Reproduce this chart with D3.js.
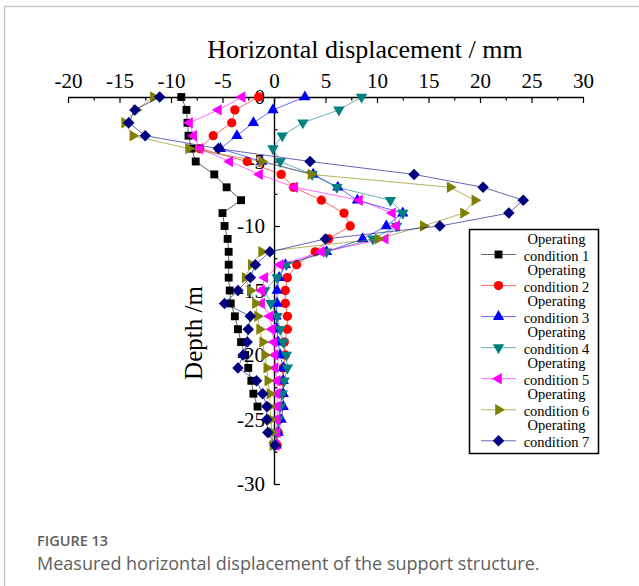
<!DOCTYPE html>
<html>
<head>
<meta charset="utf-8">
<script src="https://cdn.jsdelivr.net/npm/d3@7"></script>
<style>
  html, body { margin: 0; padding: 0; background: #fff; }
  svg { display: block; }
</style>
</head>
<body>
<svg id="chart" width="639" height="586"></svg>
<script>
// Measurement depths (m), shared by all operating conditions
const depths = [0, -1, -2, -3, -4, -5, -6, -7, -8, -9, -10, -11, -12, -13,
                -14, -15, -16, -17, -18, -19, -20, -21, -22, -23, -24, -25, -26, -27];

// Horizontal displacement (mm) at each depth, one array per operating condition
const condition1 = [-9.0, -8.5, -8.4, -8.3, -8.0, -7.6, -5.8, -4.6, -3.2, -5.0, -4.8, -4.5, -4.4, -4.4,
                    -4.4, -4.3, -4.2, -3.8, -3.5, -3.2, -2.8, -2.5, -2.2, -2.0, -1.6];
const condition2 = [-1.5, -3.8, -4.1, -5.9, -7.2, -2.6, 0.7, 1.9, 4.6, 6.8, 7.4, 5.3, 4.0, 2.2,
                    1.3, 1.1, 1.1, 1.3, 1.3, 1.0, 1.1, 0.9, 0.8, 0.8, 0.6, 0.5, 0.4, 0.3];
const condition3 = [3.0, -0.1, -2.0, -3.6, -5.2, -1.2, 3.8, 6.2, 8.1, 12.5, 10.9, 8.6, 5.1, 1.1,
                    0.5, 0.3, 0.3, 0.2, 0.3, 0.4, 0.6, 0.9, 0.9, 0.9, 0.9, 0.7, 0.4, 0.2];
const condition4 = [8.5, 6.3, 2.8, 0.8, -0.1, 0.6, 3.7, 6.1, 11.3, 12.5, 11.9, 9.6, 5.1, 1.2,
                    0.3, -0.9, -0.3, 0.3, 0.6, 0.9, 1.2, 1.3, 1.0, 0.8, 0.6, 0.4, 0.2, 0.0];
const condition5 = [-3.1, -5.4, -8.2, -7.8, -7.2, -4.3, -1.4, 2.0, 8.3, 11.5, 11.9, 10.8, 4.6, 0.6,
                    -0.9, -1.2, -1.2, -0.4, -0.2, 0.0, 0.1, 0.1, 0.3, 0.3, 0.3, 0.3, 0.3, 0.2];
const condition6 = [-11.7, -13.4, -14.5, -13.7, -8.3, -1.2, 3.6, 17.1, 19.5, 18.4, 14.5, 10.1, -1.2, -2.2,
                    -2.8, -2.3, -1.8, -1.6, -1.4, -1.1, -0.9, -0.7, -0.6, -0.4, -0.4, -0.3, -0.2, -0.1];
const condition7 = [-11.1, -13.5, -14.1, -12.5, -5.4, 3.5, 13.6, 20.3, 24.2, 22.8, 16.1, 5.0, -0.4, -1.8,
                    -2.3, -3.5, -4.8, -2.3, -2.5, -2.6, -3.0, -3.5, -1.7, -1.1, -0.7, -0.7, -0.6, 0.1];

const seriesLabels = ["condition 1", "condition 2", "condition 3", "condition 4",
                      "condition 5", "condition 6", "condition 7"];
const seriesValues = [condition1, condition2, condition3, condition4, condition5, condition6, condition7];
const seriesColors = ["#000000", "#ff0000", "#0000ff", "#008080", "#ff00ff", "#808000", "#000080"];

const xMajorTicks = [-20, -15, -10, -5, 0, 5, 10, 15, 20, 25, 30];
const xMinorTicks = [-17.5, -12.5, -7.5, -2.5, 2.5, 7.5, 12.5, 17.5, 22.5, 27.5];
const yMajorTicks = [0, -5, -10, -15, -20, -25, -30];
const yMinorTicks = [-2.5, -7.5, -12.5, -17.5, -22.5, -27.5];

const xTitle = "Horizontal displacement / mm";
const yTitle = "Depth /m";
const figureLabel = "FIGURE 13";
const figureCaption = "Measured horizontal displacement of the support structure.";

// ---------------------------------------------------------------------------
const svg = d3.select("#chart");
const serif = "'Liberation Serif', 'Times New Roman', serif";
const sans = "'Open Sans', 'Noto Sans', sans-serif";
const plainNumber = d => String(d);   // ASCII hyphen for negatives

// Page frame
svg.append("line").attr("x1", 4).attr("x2", 639).attr("y1", 6.5).attr("y2", 6.5)
  .attr("stroke", "#c8c8c8").attr("stroke-width", 1.5);
svg.append("line").attr("x1", 4.5).attr("x2", 4.5).attr("y1", 6).attr("y2", 586)
  .attr("stroke", "#c8c8c8").attr("stroke-width", 1.5);

const x = d3.scaleLinear().domain([-20, 30]).range([68, 583]);
const y = d3.scaleLinear().domain([0, -30]).range([97, 484]);

// Top (displacement) axis, ticks pointing into the plot
const xAxis = svg.append("g").attr("transform", `translate(0,${y(0)})`)
  .call(d3.axisTop(x).tickValues(xMajorTicks).tickSizeInner(-6).tickSizeOuter(0).tickPadding(9)
        .tickFormat(plainNumber));
svg.append("g").attr("transform", `translate(0,${y(0)})`)
  .call(d3.axisTop(x).tickValues(xMinorTicks).tickSizeInner(-3.5).tickSizeOuter(0).tickFormat(""))
  .call(g => g.select(".domain").remove());

// Depth axis along the zero-displacement line
const yAxis = svg.append("g").attr("transform", `translate(${x(0)},0)`)
  .call(d3.axisLeft(y).tickValues(yMajorTicks).tickSizeInner(-6).tickSizeOuter(0).tickPadding(9)
        .tickFormat(plainNumber));
svg.append("g").attr("transform", `translate(${x(0)},0)`)
  .call(d3.axisLeft(y).tickValues(yMinorTicks).tickSizeInner(-3.5).tickSizeOuter(0).tickFormat(""))
  .call(g => g.select(".domain").remove());

svg.selectAll(".domain").attr("stroke", "#000").attr("stroke-width", 1.4);
svg.selectAll(".tick line").attr("stroke", "#000").attr("stroke-width", 1.2);
[xAxis, yAxis].forEach(g => g.selectAll("text")
  .attr("font-family", serif).attr("font-size", 21).attr("fill", "#000"));

// Axis titles
svg.append("text").attr("x", 365).attr("y", 58).attr("text-anchor", "middle")
  .attr("font-family", serif).attr("font-size", 26).text(xTitle);
svg.append("text").attr("transform", "translate(202,333) rotate(-90)").attr("text-anchor", "middle")
  .attr("font-family", serif).attr("font-size", 25).text(yTitle);

// Marker shapes per operating condition
const markers = [
  { type: d3.symbolSquare, size: 62, rot: 0 },
  { type: d3.symbolCircle, size: 68, rot: 0 },
  { type: d3.symbolTriangle, size: 56, rot: 0 },
  { type: d3.symbolTriangle, size: 56, rot: 180 },
  { type: d3.symbolTriangle, size: 56, rot: -90 },
  { type: d3.symbolTriangle, size: 56, rot: 90 },
  { type: d3.symbolSquare, size: 66, rot: 45 }
];

const line = d3.line().x(d => x(d.v)).y(d => y(d.d));

seriesValues.forEach((vals, i) => {
  const pts = vals.map((v, k) => ({ v: v, d: depths[k] }));
  const g = svg.append("g");
  g.append("path").datum(pts).attr("d", line)
    .attr("fill", "none").attr("stroke", seriesColors[i]).attr("stroke-width", 1)
    .attr("stroke-opacity", 0.6);
  const m = markers[i];
  g.selectAll("path.mk").data(pts).join("path").attr("class", "mk")
    .attr("d", d3.symbol(m.type, m.size)())
    .attr("transform", d => `translate(${x(d.v)},${y(d.d)}) rotate(${m.rot})`)
    .attr("fill", seriesColors[i]);
});

// Legend
const legend = svg.append("g");
legend.append("rect").attr("x", 469.5).attr("y", 229.5).attr("width", 129).attr("height", 224)
  .attr("fill", "#fff").attr("stroke", "#000").attr("stroke-width", 1.5);
seriesLabels.forEach((label, i) => {
  const cy = 254.5 + i * 31.05;
  legend.append("line").attr("x1", 481).attr("x2", 516).attr("y1", cy).attr("y2", cy)
    .attr("stroke", seriesColors[i]).attr("stroke-width", 1).attr("stroke-opacity", 0.6);
  const m = markers[i];
  legend.append("path").attr("d", d3.symbol(m.type, m.size)())
    .attr("transform", `translate(498.5,${cy}) rotate(${m.rot})`).attr("fill", seriesColors[i]);
  legend.append("text").attr("x", 556.5).attr("y", cy - 11).attr("text-anchor", "middle")
    .attr("font-family", serif).attr("font-size", 14.5).text("Operating");
  legend.append("text").attr("x", 556.5).attr("y", cy + 6.5).attr("text-anchor", "middle")
    .attr("font-family", serif).attr("font-size", 14.5).text(label);
});

// Figure caption
svg.append("text").attr("x", 37).attr("y", 546)
  .attr("font-family", sans).attr("font-size", 14.5)
  .attr("font-weight", 600).attr("fill", "#606060").text(figureLabel);
svg.append("text").attr("x", 37).attr("y", 570)
  .attr("font-family", sans).attr("font-size", 18)
  .attr("fill", "#606060").text(figureCaption);
</script>
</body>
</html>
